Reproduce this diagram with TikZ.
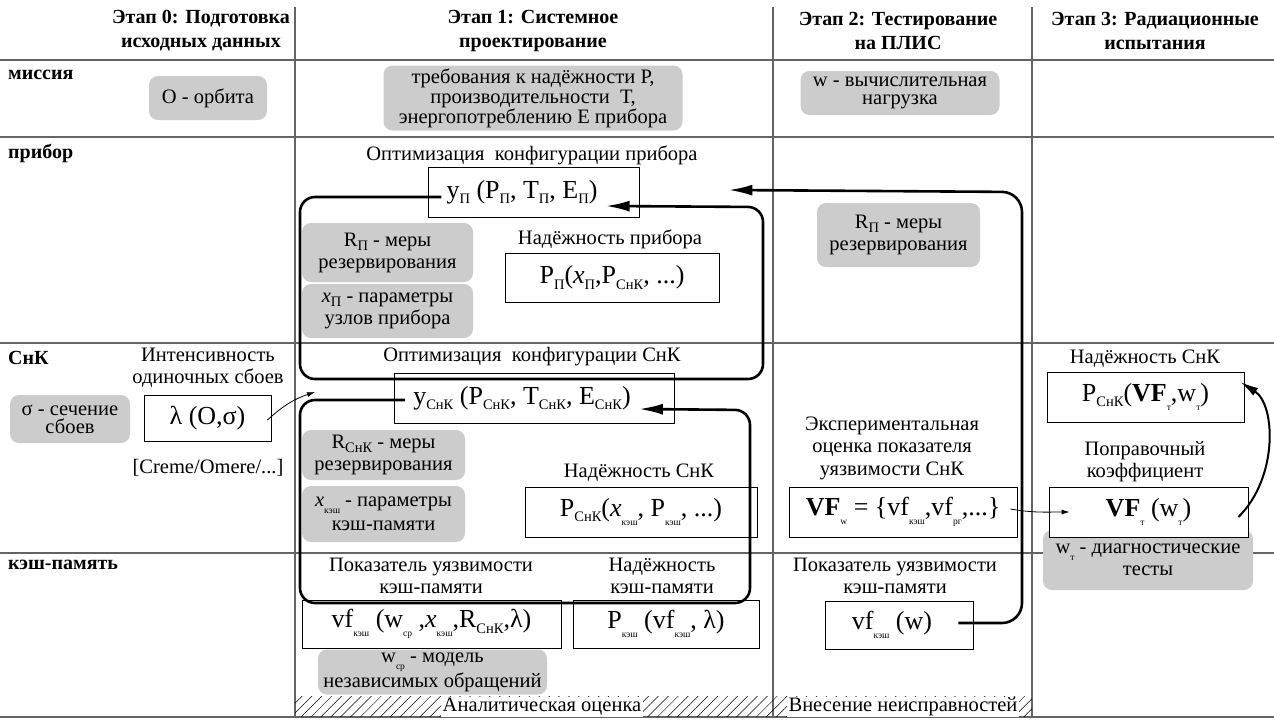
\documentclass[tikz,border=0pt]{standalone}
\usepackage{fontspec}
\setmainfont{Liberation Serif}
\usetikzlibrary{arrows.meta,patterns.meta,calc}
\definecolor{graybox}{RGB}{204,204,204}
\definecolor{gridc}{RGB}{100,100,100}
\newcommand\sbs[1]{\raisebox{-0.45ex}{\fontsize{14.5}{14.5}\selectfont #1}}
\newcommand\sbt[1]{\raisebox{-0.75ex}{\fontsize{9.5}{9.5}\selectfont #1}}
\begin{document}
\begin{tikzpicture}[x=1pt,y=-1pt,
 every node/.style={font=\fontsize{20.5}{22}\selectfont, inner sep=0pt, align=center},
 hdr/.style={font=\bfseries\fontsize{20}{24}\selectfont},
 rowlab/.style={font=\bfseries\fontsize{20}{22}\selectfont, anchor=base west},
 gbox/.style={fill=graybox, rounded corners=9pt, draw=none},
 fbox/.style={draw, line width=0.9pt, fill=white},
 frm/.style={font=\fontsize{26}{28}\selectfont},
 gridline/.style={draw=gridc, line width=1.2pt},
 loopline/.style={line width=2.6pt, rounded corners=15pt, -{Latex[length=24pt,width=11pt]}},
 thinarrow/.style={line width=0.8pt, -{Latex[length=8pt,width=5pt]}}
]
\useasboundingbox (0,0) rectangle (1274,721);
\fill[white] (0,0) rectangle (1274,721);

% grid
\draw[gridline] (0,60) -- (1274,60);
\draw[gridline] (0,137) -- (1274,137);
\draw[gridline] (0,343) -- (1274,343);
\draw[gridline] (0,553) -- (1274,553);
\draw[gridline] (0,717) -- (1274,717);
\draw[gridline] (295,7) -- (295,717);
\draw[gridline] (773,7) -- (773,717);
\draw[gridline] (1032,7) -- (1032,717);

% hatched strip
\fill[pattern={Lines[angle=45,distance=7pt,line width=0.5pt]}] (295,696) rectangle (1032,716);
\node[fill=white, inner xsep=2pt, inner ysep=1pt] (ana) at (542,707) {Аналитическая оценка};
\node[fill=white, inner xsep=2pt, inner ysep=1pt] (vne) at (903,707) {Внесение неисправностей};

% headers
\node[hdr, anchor=east] (h0) at (290,31) {Этап 0: Подготовка\\исходных данных};
\node[hdr] (h1) at (533,31) {Этап 1: Системное\\проектирование};
\node[hdr] (h2) at (898,31) {Этап 2: Тестирование\\на ПЛИС};
\node[hdr] (h3) at (1155,31) {Этап 3: Радиационные\\испытания};

% row labels
\node[rowlab] (r1) at (8,79) {миссия};
\node[rowlab] (r2) at (8,158) {прибор};
\node[rowlab] (r3) at (8,364) {СнК};
\node[rowlab] (r4) at (8,569) {кэш-память};

% gray boxes
\node[gbox, minimum width=118pt, minimum height=44pt] (orb) at (208,98) {О - орбита};
\node[gbox, minimum width=299pt, minimum height=65pt, font=\fontsize{20.5}{20}\selectfont] (treb) at (533,98) {требования к надёжности Р,\\производительности\ \ Т,\\энергопотреблению Е прибора};
\node[gbox, minimum width=199pt, minimum height=44pt, font=\fontsize{20.5}{18.5}\selectfont] (wload) at (900,93) {w - вычислительная\\нагрузка};
\node[gbox, minimum width=171pt, minimum height=59pt] (rp1) at (387.5,252.5) {R\sbs{П} - меры\\резервирования};
\node[gbox, minimum width=171pt, minimum height=54pt] (xp1) at (387.5,311) {\textit{x}\sbs{П} - параметры\\узлов прибора};
\node[gbox, minimum width=163pt, minimum height=64pt] (rp2) at (898.5,235) {R\sbs{П} - меры\\резервирования};
\node[gbox, minimum width=120pt, minimum height=48pt, font=\fontsize{20.5}{18}\selectfont] (sig) at (70,419) {σ - сечение\\сбоев};
\node[gbox, minimum width=163pt, minimum height=50pt] (rsk) at (383.5,455) {R\sbs{СнК} - меры\\резервирования};
\node[gbox, minimum width=163pt, minimum height=56pt, font=\fontsize{20.5}{24}\selectfont] (xk) at (383.5,514) {\textit{x}\sbt{кэш} - параметры\\кэш-памяти};
\node[gbox, minimum width=229pt, minimum height=45pt, font=\fontsize{20.5}{19}\selectfont] (wsr) at (432.5,672) {w\sbt{ср} - модель\\независимых обращений};
\node[gbox, minimum width=210pt, minimum height=60pt] (wt) at (1148,560) {w\sbt{т} - диагностические\\тесты};

% labels
\node (l1) at (532,155) {Оптимизация\ \ конфигурации прибора};
\node (l2) at (610,239) {Надёжность прибора};
\node (l3) at (532,357) {Оптимизация\ \ конфигурации СнК};
\node (l4) at (639,473) {Надёжность СнК};
\node (l5) at (431,576) {Показатель уязвимости\\кэш-памяти};
\node (l6) at (662,576) {Надёжность\\кэш-памяти};
\node (l7) at (208,368) {Интенсивность\\одиночных сбоев};
\node (l8) at (208,468) {[Creme/Omere/...]};
\node[font=\fontsize{20.5}{22.5}\selectfont] (l9) at (892,448) {Экспериментальная\\оценка показателя\\уязвимости СнК};
\node (l10) at (895,576) {Показатель уязвимости\\кэш-памяти};
\node (l11) at (1145,359) {Надёжность СнК};
\node (l12) at (1145,462) {Поправочный\\коэффициент};

% framed boxes
\node[fbox, minimum width=211pt, minimum height=50pt] (yP) at (533.5,192) {};
\node[frm] (yPt) at (522,192) {y\sbs{П} (P\sbs{П}, T\sbs{П}, E\sbs{П})};
\node[fbox, frm, minimum width=214pt, minimum height=49pt] (pP) at (612,277.5) {P\sbs{П}(\textit{x}\sbs{П},P\sbs{СнК}, ...)};
\node[fbox, minimum width=280pt, minimum height=50pt] (yS) at (534,398) {};
\node[frm] (ySt) at (522,398) {y\sbs{СнК} (P\sbs{СнК}, T\sbs{СнК}, E\sbs{СнК})};
\node[fbox, frm, minimum width=232pt, minimum height=50pt] (pS) at (641,512) {P\sbs{СнК}(\textit{x}\sbt{кэш}, P\sbt{кэш}, ...)};
\node[fbox, frm, minimum width=259pt, minimum height=48pt] (vfB) at (431.5,624) {vf\sbt{кэш} (w\sbt{ср} ,\textit{x}\sbt{кэш},R\sbs{СнК},λ)};
\node[fbox, frm, minimum width=186pt, minimum height=48pt] (pkB) at (666,624) {P\sbt{кэш} (vf\sbt{кэш}, λ)};
\node[fbox, frm, minimum width=127pt, minimum height=46pt] (lam) at (207.5,418) {λ (O,σ)};
\node[fbox, frm, minimum width=228pt, minimum height=50pt] (vfwB) at (903,512) {\textbf{VF}\sbt{w} = \{vf\sbt{кэш},vf\sbt{рг},...\}};
\node[fbox, frm, minimum width=148pt, minimum height=48pt] (vfwwB) at (899,625) {vf\sbt{кэш} (w)\hspace{14pt}};
\node[fbox, frm, minimum width=197pt, minimum height=50pt] (pskB) at (1145.5,397) {P\sbs{СнК}(\textbf{VF}\sbt{т},w\sbt{т})};
\node[fbox, frm, minimum width=199pt, minimum height=50pt] (vftB) at (1148.5,512) {\textbf{VF}\sbt{т} (w\sbt{т})};

% loops
\draw[loopline] ($(yPt.west)+(-5,5)$) -- (300,197) -- (300,379) -- (763,379) -- (763,207) -- ($(yPt.east)+(8,14)$);
\draw[loopline] ($(ySt.west)+(-8,2)$) -- (300,400) -- (300,603) -- (750,603) -- (750,410) -- ($(ySt.east)+(8,11)$);
\draw[loopline, rounded corners=20pt] ($(vfwwB.east)+(-15,-2)$) -- (1022,623) -- (1022,192) -- ($(yP.east)+(89,-2)$);

% thin arrows
\draw[thinarrow] ($(lam.east)+(-4,2)$) to[bend left=12] (315,392);
\draw[thinarrow] ($(vfwB.east)+(-7,-3)$) to[out=-10,in=180] ($(vftB.west)+(21,0)$);
\draw[line width=2pt, -{Latex[length=18pt,width=9pt]}] ($(vftB.east)+(-10,5)$) .. controls (1278,478) and (1276,405) .. ($(pskB.east)+(-4,-15)$);
\end{tikzpicture}
\end{document}
